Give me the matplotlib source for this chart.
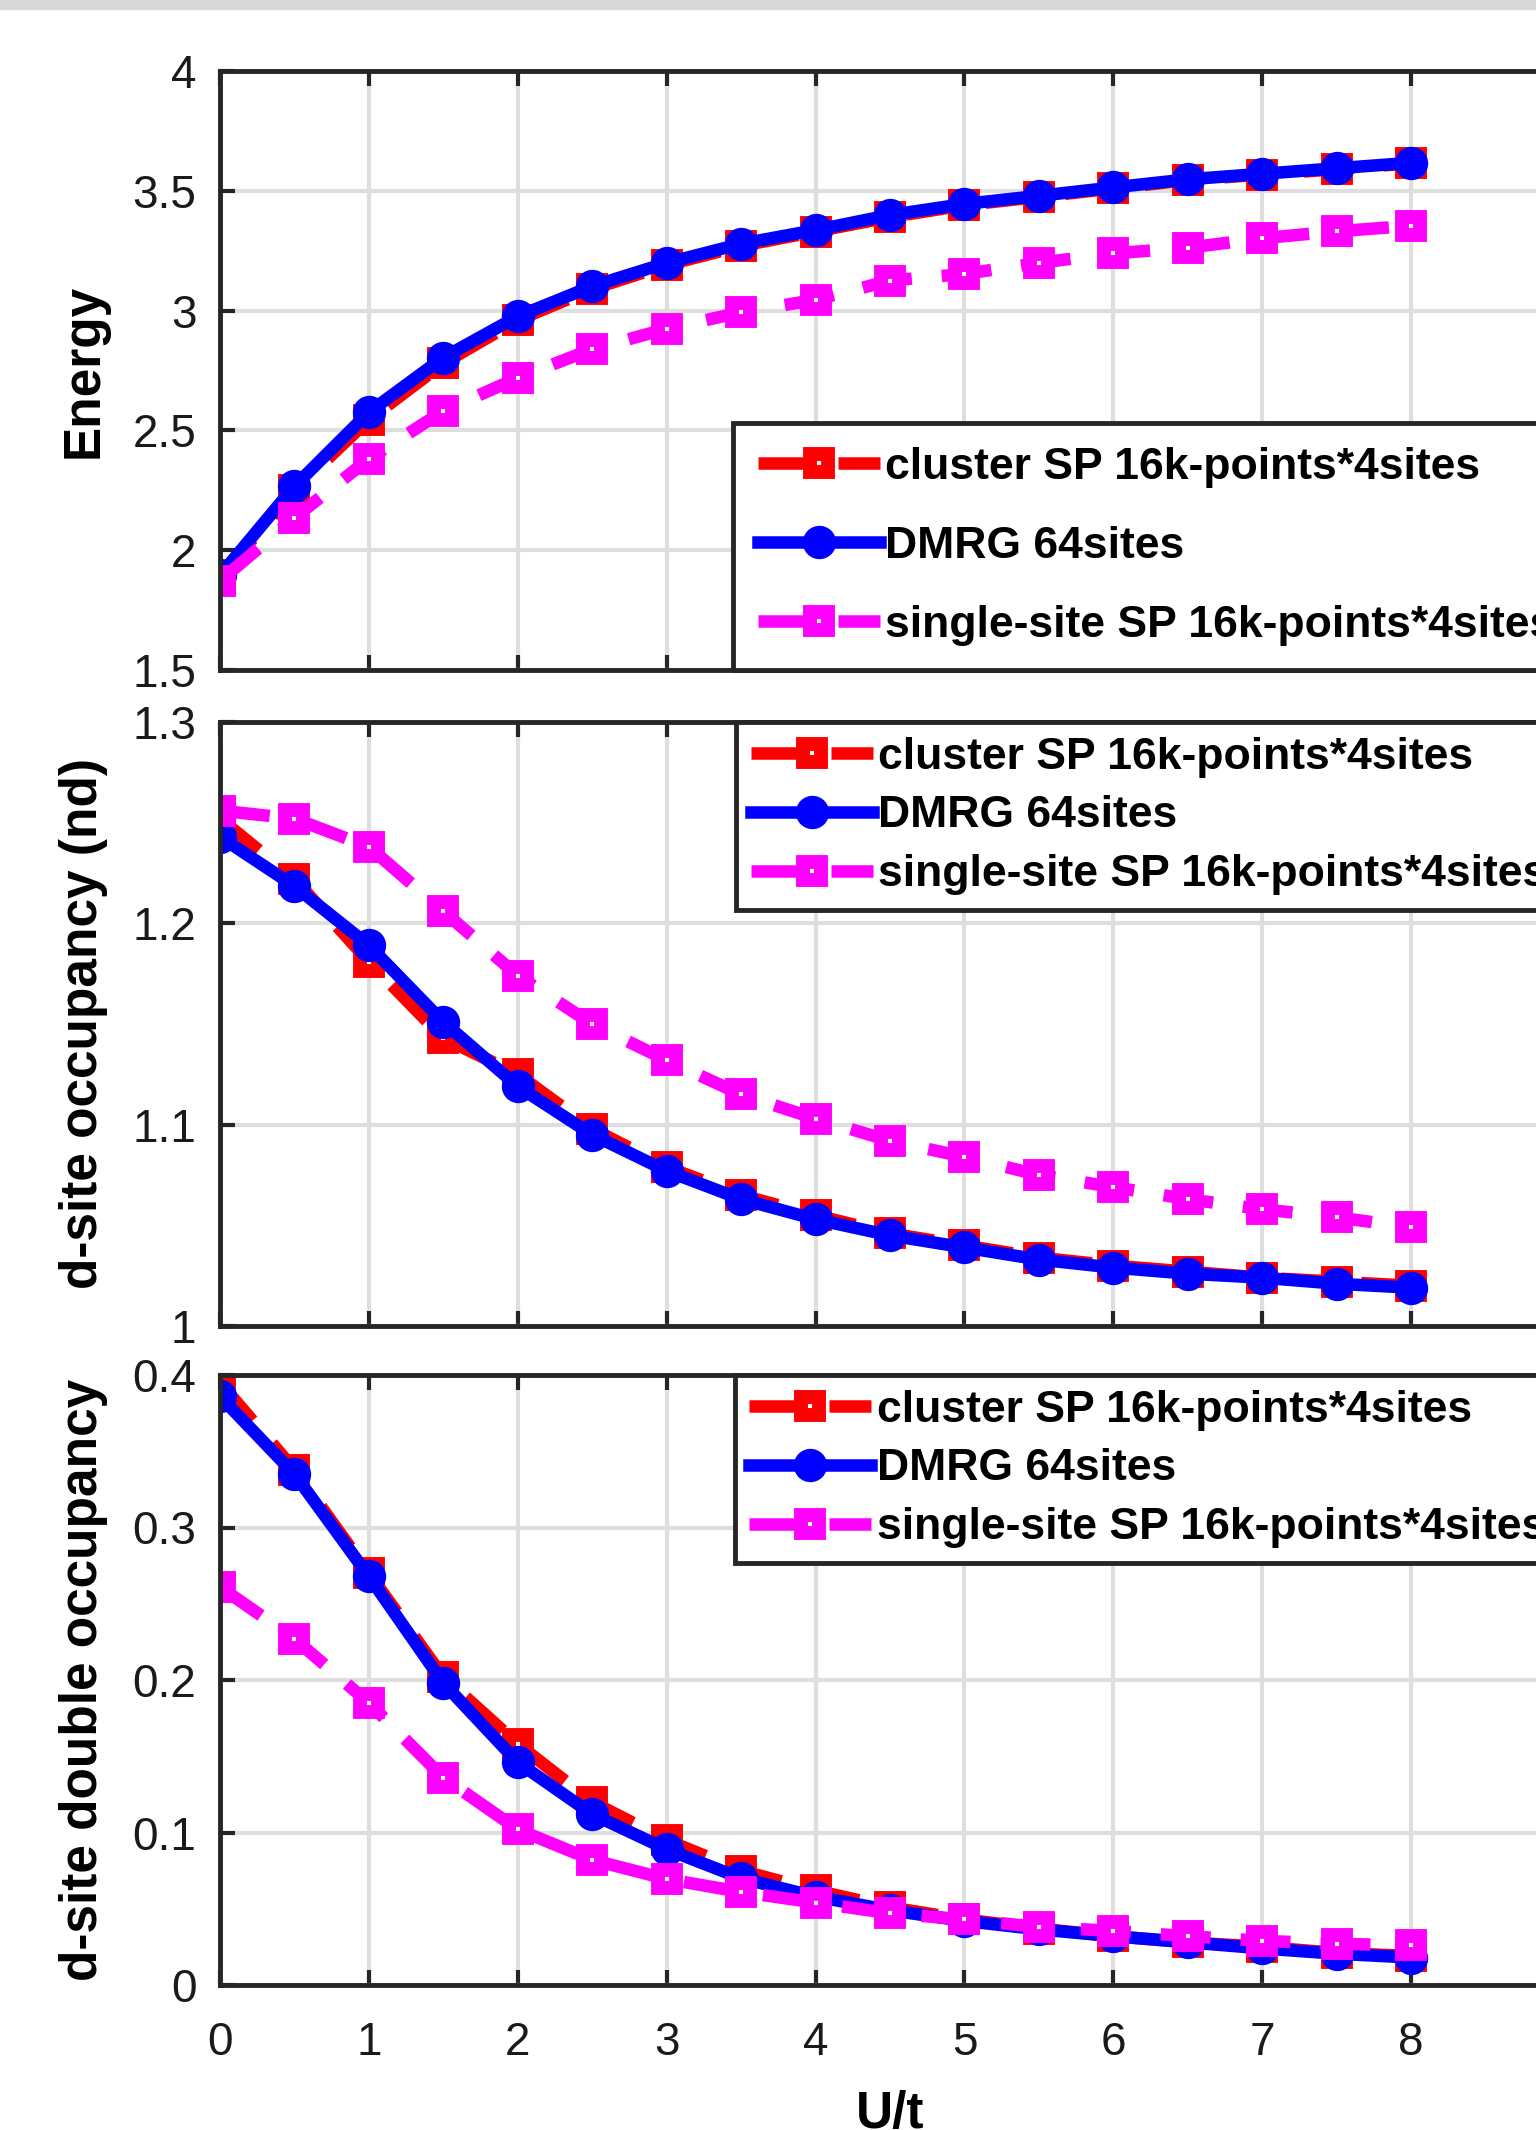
import matplotlib
matplotlib.use("Agg")
import matplotlib.pyplot as plt
from matplotlib.ticker import FormatStrFormatter, MultipleLocator
from matplotlib.patches import Rectangle

# U/t values
U = [0, 0.5, 1, 1.5, 2, 2.5, 3, 3.5, 4, 4.5, 5, 5.5, 6, 6.5, 7, 7.5, 8]

# Energy
energy_cluster = [1.89, 2.25, 2.545, 2.78, 2.96, 3.09, 3.19, 3.27, 3.33, 3.39,
                  3.44, 3.475, 3.51, 3.545, 3.568, 3.59, 3.615]
energy_dmrg = [1.895, 2.267, 2.576, 2.804, 2.976, 3.102, 3.199, 3.279, 3.336, 3.399,
               3.445, 3.479, 3.514, 3.548, 3.571, 3.594, 3.617]
energy_single = [1.872, 2.135, 2.381, 2.581, 2.719, 2.839, 2.924, 2.993, 3.045, 3.125,
                 3.153, 3.199, 3.239, 3.262, 3.302, 3.331, 3.354]

# d-site occupancy (nd)
nd_cluster = [1.252, 1.222, 1.181, 1.143, 1.125, 1.098, 1.079, 1.065, 1.055, 1.046,
              1.040, 1.034, 1.030, 1.027, 1.024, 1.022, 1.020]
nd_dmrg = [1.243, 1.2185, 1.189, 1.151, 1.119, 1.095, 1.077, 1.063, 1.053, 1.045,
           1.039, 1.033, 1.029, 1.026, 1.024, 1.021, 1.019]
nd_single = [1.256, 1.252, 1.238, 1.206, 1.174, 1.150, 1.132, 1.115, 1.103, 1.092,
             1.084, 1.075, 1.069, 1.063, 1.058, 1.054, 1.049]

# d-site double occupancy
dd_cluster = [0.395, 0.338, 0.27, 0.202, 0.158, 0.12, 0.095, 0.075, 0.062, 0.051,
              0.043, 0.037, 0.032, 0.028, 0.025, 0.021, 0.019]
dd_dmrg = [0.386, 0.335, 0.268, 0.198, 0.146, 0.112, 0.089, 0.070, 0.058, 0.049,
           0.042, 0.0365, 0.032, 0.028, 0.024, 0.0205, 0.018]
dd_single = [0.261, 0.227, 0.185, 0.136, 0.102, 0.082, 0.0695, 0.061, 0.054, 0.047,
             0.043, 0.038, 0.0355, 0.032, 0.029, 0.027, 0.026]

labels = ["cluster SP 16k-points*4sites", "DMRG 64sites",
          "single-site SP 16k-points*4sites"]

plt.rcParams['font.family'] = ['Liberation Sans', 'DejaVu Sans']

W, H = 1536, 2130
fig = plt.figure(figsize=(W / 100, H / 100), dpi=100)
fig.patches.append(Rectangle((0, 1 - 9 / H), 1, 9 / H, transform=fig.transFigure,
                             color='#d9d9d9', zorder=0))

edge = '#262626'
x0, x1 = 220, 1560
panels = [
    # top px, bottom px, ylim, step, ylabel, data, legend settings
    (71, 670, (1.5, 4), 0.5, "Energy", (energy_cluster, energy_dmrg, energy_single),
     dict(loc='lower left', bbox_to_anchor=(0.383, 0.0), labelspacing=0.85, borderpad=0.55)),
    (722, 1326, (1, 1.3), 0.1, "d-site occupancy (nd)", (nd_cluster, nd_dmrg, nd_single),
     dict(loc='upper left', bbox_to_anchor=(0.385, 1.0), labelspacing=0.4, borderpad=0.33)),
    (1375, 1985, (0, 0.4), 0.1, "d-site double occupancy", (dd_cluster, dd_dmrg, dd_single),
     dict(loc='upper left', bbox_to_anchor=(0.384, 1.0), labelspacing=0.4, borderpad=0.33)),
]

lw = 9
sq = dict(marker='s', ms=13, mew=10, mfc='white')
for i, (top, bot, ylim, step, ylabel, (yc, yd, ys), leg_kw) in enumerate(panels):
    ax = fig.add_axes([x0 / W, 1 - bot / H, (x1 - x0) / W, (bot - top) / H])
    ax.plot(U, yc, color='red', lw=lw, dashes=(4, 2.4), mec='red', label=labels[0], **sq)
    ax.plot(U, yd, color='blue', lw=lw, marker='o', ms=20, mew=4, mfc='blue',
            mec='blue', label=labels[1])
    ax.plot(U, ys, color='magenta', lw=lw, dashes=(4, 2.4), mec='magenta',
            label=labels[2], **sq)

    ax.set_xlim(0, 9)
    ax.set_ylim(*ylim)
    ax.xaxis.set_major_locator(MultipleLocator(1))
    ax.yaxis.set_major_locator(MultipleLocator(step))
    ax.yaxis.set_major_formatter(FormatStrFormatter('%g'))
    ax.grid(True, color='#dedede', lw=3)
    ax.set_axisbelow(True)
    for sp in ax.spines.values():
        sp.set_color(edge)
        sp.set_linewidth(3.5)
    ax.tick_params(axis='both', direction='in', length=11, width=3, color=edge,
                   top=True, right=True, labelsize=33, labelcolor='#1a1a1a')
    ax.tick_params(axis='x', pad=26)
    ax.tick_params(axis='y', pad=17)
    if i < 2:
        ax.tick_params(axis='x', labelbottom=False)
    else:
        ax.set_xlabel("U/t", fontsize=37, fontweight='bold', labelpad=18)

    ax.set_ylabel(ylabel, fontsize=37, fontweight='bold', va='center')
    ax.yaxis.set_label_coords(-0.1015, 0.5)

    leg = ax.legend(prop={'size': 32, 'weight': 'bold'}, handlelength=2.75,
                    handletextpad=0.12, borderaxespad=0, fancybox=False,
                    framealpha=1, edgecolor=edge, numpoints=1, **leg_kw)
    leg.get_frame().set_linewidth(3.5)

fig.savefig("out.png", dpi=100)
